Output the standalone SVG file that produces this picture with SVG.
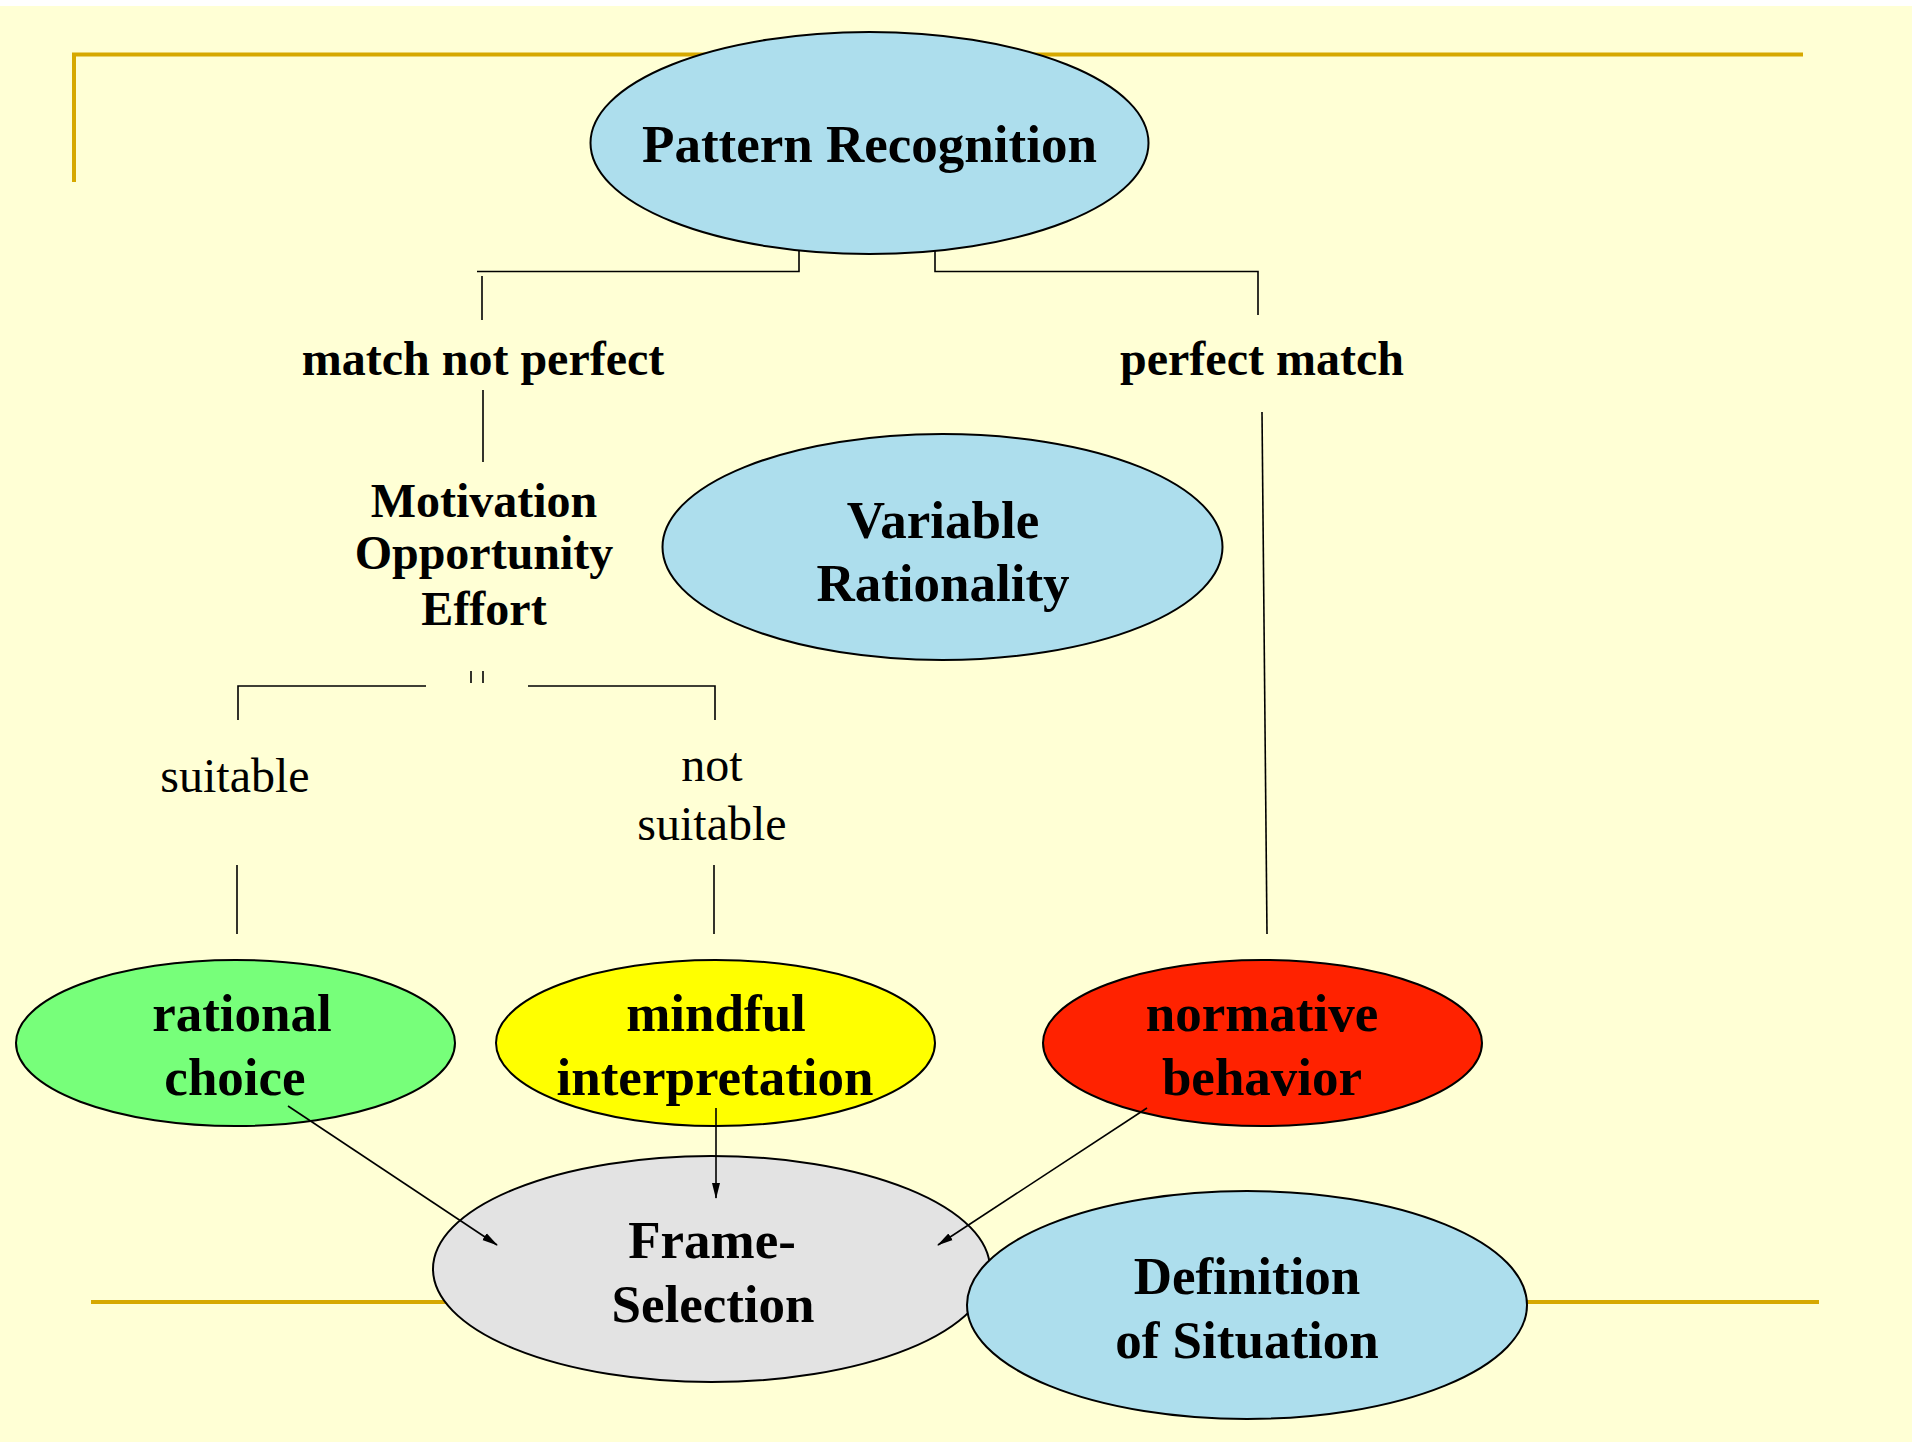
<svg xmlns="http://www.w3.org/2000/svg" width="1912" height="1442" viewBox="0 0 1912 1442">
<defs>
<marker id="ah" markerWidth="16" markerHeight="10" refX="15" refY="5" orient="auto" markerUnits="userSpaceOnUse">
<path d="M0,1 L16,5 L0,9 Z" fill="#000"/>
</marker>
<style>
.node ellipse{stroke:#000;stroke-width:2}
.t{font-family:"Liberation Serif","Times New Roman",serif;font-weight:bold;font-size:53px;text-anchor:middle;fill:#000}
.lb{font-family:"Liberation Serif","Times New Roman",serif;font-weight:bold;font-size:48px;text-anchor:middle;fill:#000}
.lr{font-family:"Liberation Serif","Times New Roman",serif;font-size:48px;text-anchor:middle;fill:#000}
.gold{stroke:#D6A800;stroke-width:4;fill:none}
#connectors line,#connectors polyline{stroke:#000;stroke-width:1.6;fill:none}
</style>
</defs>
<rect x="0" y="0" width="1912" height="1442" fill="#FFFFFF"/>
<rect x="0" y="6" width="1912" height="1436" fill="#FFFFD5"/>
<g id="decor">
<polyline class="gold" points="74,182 74,54.5 1803,54.5"/>
<line class="gold" x1="91" y1="1302" x2="1819" y2="1302"/>
</g>
<g id="labels">
<text class="lb" x="483" y="375">match not perfect</text>
<text class="lb" x="1262" y="375">perfect match</text>
<text class="lb" x="484" y="517">Motivation</text>
<text class="lb" x="484" y="569">Opportunity</text>
<text class="lb" x="484" y="625">Effort</text>
<text class="lr" x="235" y="792">suitable</text>
<text class="lr" x="712" y="781">not</text>
<text class="lr" x="712" y="840">suitable</text>
</g>
<g id="pattern-recognition" class="node">
<ellipse cx="869.5" cy="143" rx="279" ry="111" fill="#ADDEED"/>
<text class="t" x="869.5" y="162">Pattern Recognition</text>
</g>
<g id="variable-rationality" class="node">
<ellipse cx="942.5" cy="547" rx="280" ry="113" fill="#ADDEED"/>
<text class="t" x="943" y="538">Variable</text>
<text class="t" x="943" y="601">Rationality</text>
</g>
<g id="rational-choice" class="node">
<ellipse cx="235.5" cy="1043" rx="219.5" ry="83" fill="#77FF7A"/>
<text class="t" x="242" y="1031">rational</text>
<text class="t" x="235" y="1095">choice</text>
</g>
<g id="mindful-interpretation" class="node">
<ellipse cx="715.5" cy="1043" rx="219.5" ry="83" fill="#FFFF00"/>
<text class="t" x="716" y="1031">mindful</text>
<text class="t" x="715" y="1095">interpretation</text>
</g>
<g id="normative-behavior" class="node">
<ellipse cx="1262.5" cy="1043" rx="219.5" ry="83" fill="#FF2200"/>
<text class="t" x="1262" y="1031">normative</text>
<text class="t" x="1262" y="1095">behavior</text>
</g>
<g id="frame-selection" class="node">
<ellipse cx="711.5" cy="1269" rx="278.5" ry="113" fill="#E3E3E3"/>
<text class="t" x="712" y="1258">Frame-</text>
<text class="t" x="713" y="1322">Selection</text>
</g>
<g id="definition-of-situation" class="node">
<ellipse cx="1247" cy="1305" rx="280" ry="114" fill="#ADDEED"/>
<text class="t" x="1247" y="1294">Definition</text>
<text class="t" x="1247" y="1358">of Situation</text>
</g>
<g id="connectors">
<polyline points="799,250 799,271.5 477,271.5"/>
<line x1="482" y1="276" x2="482" y2="320"/>
<line x1="483" y1="390" x2="483" y2="462"/>
<polyline points="935,250 935,271.5 1258,271.5 1258,315"/>
<line x1="1262" y1="412" x2="1267" y2="934"/>
<polyline points="426,686 238,686 238,720"/>
<polyline points="528,686 715,686 715,720"/>
<line x1="471" y1="671" x2="471" y2="683"/>
<line x1="483" y1="671" x2="483" y2="683"/>
<line x1="237" y1="865" x2="237" y2="934"/>
<line x1="714" y1="865" x2="714" y2="934"/>
<line x1="288" y1="1106" x2="497" y2="1245" marker-end="url(#ah)"/>
<line x1="716" y1="1108" x2="716" y2="1198" marker-end="url(#ah)"/>
<line x1="1147" y1="1108" x2="938" y2="1245" marker-end="url(#ah)"/>
</g>
</svg>
